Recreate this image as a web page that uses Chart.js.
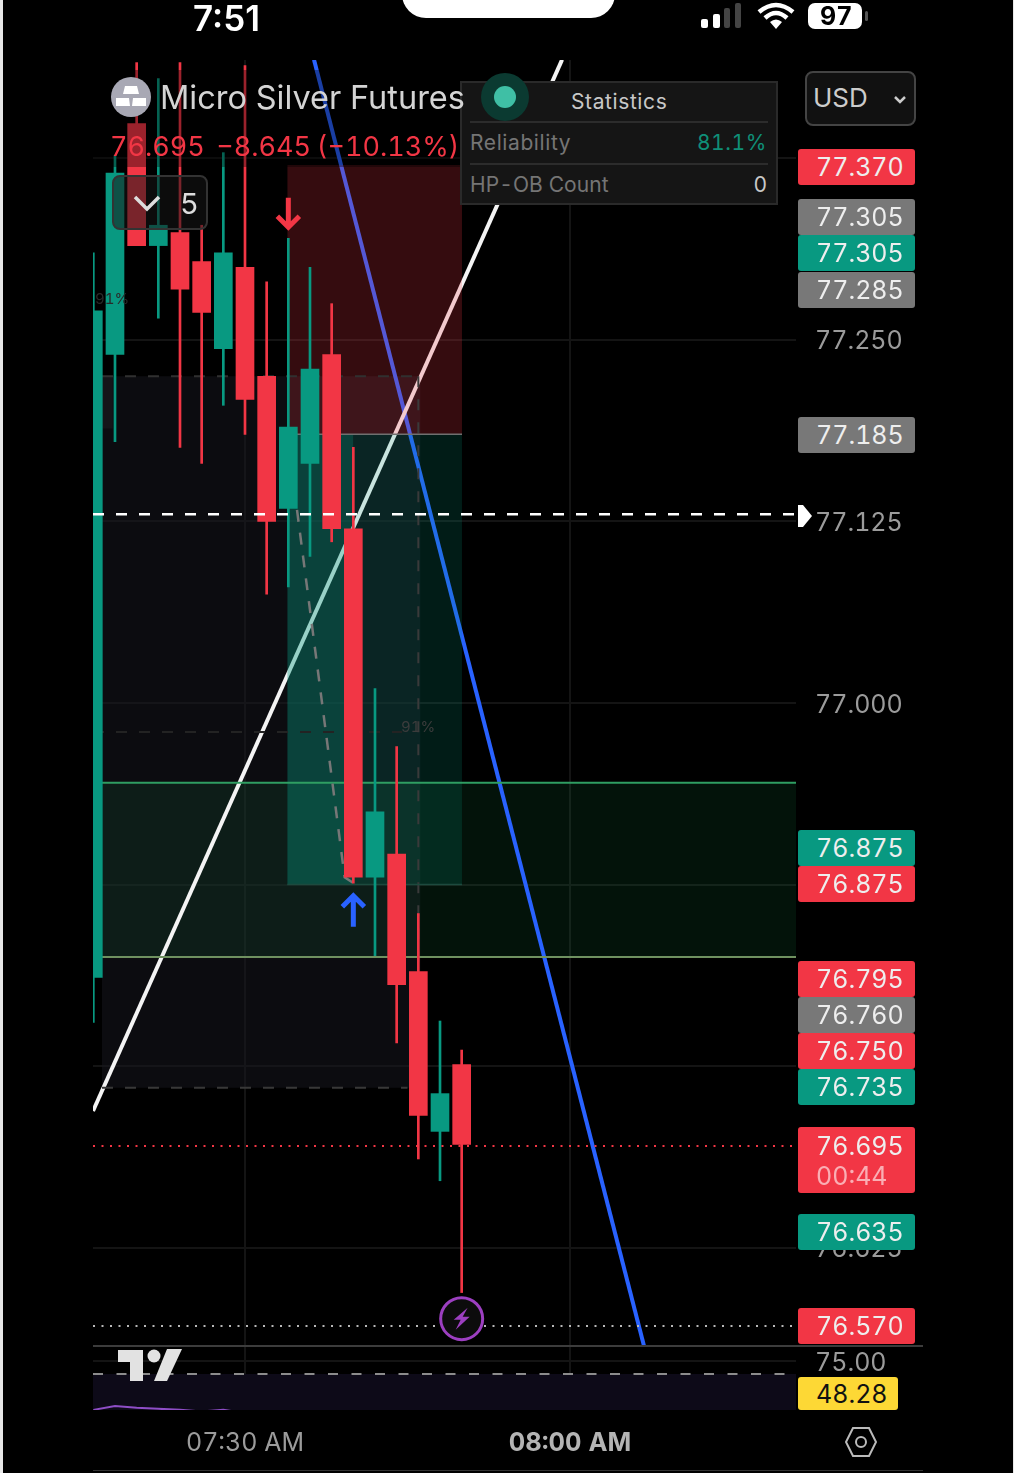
<!DOCTYPE html>
<html>
<head>
<meta charset="utf-8">
<title>Micro Silver Futures</title>
<script src="https://cdn.jsdelivr.net/npm/chart.js@4/dist/chart.umd.min.js"></script>
<style>
html, body { margin: 0; padding: 0; background: #000; }
body { width: 1014px; height: 1473px; position: relative; overflow: hidden; font-family: Inter, sans-serif; color: #ddd; font-variant-numeric: tabular-nums; }
canvas { position: absolute; left: 0; top: 0; }
.abs { position: absolute; white-space: nowrap; }
.edge { position: absolute; top: 0; bottom: 0; background: #e8e8e8; }
.tag { position: absolute; left: 798px; width: 117px; height: 36px; line-height: 37px; border-radius: 3px; font-size: 25px; color: #eee; text-indent: 18px; }
.tag.red { background: #f23645; }
.tag.grey { background: #787878; }
.tag.teal { background: #089981; }
.tag span { display: block; line-height: 22px; color: rgba(255,255,255,.6); }
#legendName { left: 160px; top: 78px; font-size: 32.5px; color: #d4d4d4; z-index: 2; }
#legendPrice { left: 110px; top: 130px; font-size: 27px; color: #f23645; word-spacing: -1.5px; }
#intervalBtn { left: 112px; top: 175px; width: 92px; height: 51px; border: 2px solid #333; border-radius: 8px; background: rgba(22,22,22,.55); }
#intervalBtn b { position: absolute; left: 66px; top: 9px; font-size: 29px; font-weight: 400; color: #ddd; }
#stats { left: 460px; top: 81px; width: 314px; height: 120px; border: 2px solid #2a2a2a; background: #151515; font-size: 21px; }
#stats div { position: absolute; }
#stats .rule { left: 8px; right: 8px; height: 2px; background: #2c2c2c; }
.usd { left: 805px; top: 71px; width: 107px; height: 51px; border: 2px solid #444; border-radius: 8px; background: #111; font-size: 26px; line-height: 50px; text-indent: 6px; color: #ccc; }
#rsiTag { left: 798px; top: 1377px; width: 100px; height: 33px; line-height: 34px; background: #fdd835; color: #111; border-radius: 3px; font-size: 25px; text-indent: 18px; }
</style>
</head>
<body>
<canvas id="chart" width="1014" height="1473"></canvas>

<div class="edge" style="left:0;width:3px"></div>
<div class="edge" style="left:1013px;width:1px"></div>

<!-- phone status bar -->
<div class="abs" style="left:193px;top:-3px;font-size:35px;font-weight:600;color:#fff;font-variant-numeric:normal">7:51</div>
<div class="abs" style="left:402px;top:-20px;width:213px;height:38px;background:#fff;border-radius:0 0 24px 24px"></div>
<svg class="abs" style="left:695px;top:0" width="180" height="34">
  <rect x="6" y="19" width="7" height="9" rx="2" fill="#fff"/>
  <rect x="18" y="14" width="7" height="14" rx="2" fill="#fff"/>
  <rect x="29" y="8" width="6" height="20" rx="2" fill="#444"/>
  <rect x="40" y="3" width="6" height="25" rx="2" fill="#444"/>
  <path d="M64 12 Q81 -2 98 12 M70 18 Q81 8 92 18" fill="none" stroke="#fff" stroke-width="4.5"/>
  <path d="M75 22 Q81 17 87 22 L81 29 Z" fill="#fff"/>
  <rect x="113" y="3" width="54" height="26" rx="7" fill="#fff"/>
  <rect x="170" y="11" width="3" height="10" rx="1.5" fill="#555"/>
</svg>
<div class="abs" style="left:820px;top:1px;font-size:25px;font-weight:700;color:#000">97</div>

<!-- legend -->
<svg class="abs" style="left:111px;top:77px" width="40" height="40">
  <circle cx="20" cy="20" r="20" fill="#a8a8b4"/>
  <path d="M14 9 H26 L28 17 H12 Z M5 21 H18 L19 29 H5 Z M22 21 H35 L35 29 H21 Z" fill="#fff"/>
</svg>
<div class="abs" id="legendName">Micro Silver Futures</div>
<div class="abs" id="legendPrice">76.695&nbsp; −8.645 (−10.13%)</div>
<div class="abs" id="intervalBtn">
  <svg class="abs" style="left:19px;top:17px" width="28" height="18"><path d="M2 3 L14 15 L26 3" fill="none" stroke="#ddd" stroke-width="3.5"/></svg>
  <b>5</b>
</div>

<!-- statistics panel -->
<div class="abs" id="stats">
  <div style="left:109px;top:6px;color:#c8c8c8;letter-spacing:.6px">Statistics</div>
  <div class="rule" style="top:38px"></div>
  <div style="left:8px;top:47px;color:#757575;letter-spacing:.6px">Reliability</div>
  <div style="right:9px;top:47px;color:#0f8f78;letter-spacing:.6px">81.1%</div>
  <div class="rule" style="top:80px"></div>
  <div style="left:8px;top:89px;color:#757575;letter-spacing:.1px">HP-OB Count</div>
  <div style="right:9px;top:89px;color:#c8c8c8">0</div>
</div>
<svg class="abs" style="left:481px;top:73px" width="48" height="48">
  <circle cx="24" cy="24" r="24" fill="#0b3a31"/>
  <circle cx="24" cy="24" r="11" fill="#3fbfa5"/>
</svg>

<div class="abs usd">USD
  <svg class="abs" style="left:86px;top:22px" width="14" height="10"><path d="M2 2 L7 7 L12 2" fill="none" stroke="#ccc" stroke-width="2.5"/></svg>
</div>

<div id="tags"></div>
<svg class="abs" style="left:797px;top:504px" width="16" height="24"><path d="M1 1 H6 L15 12 L6 23 H1 Z" fill="#fff"/></svg>
<div class="abs" id="rsiTag">48.28</div>

<!-- pane separators, logo, settings icon -->
<div class="abs" style="left:93px;top:1345px;width:830px;height:2px;background:#3c3c3c"></div>
<div class="abs" style="left:93px;top:1470px;width:830px;height:1px;background:#333"></div>
<svg class="abs" style="left:116px;top:1348px" width="70" height="36">
  <path d="M2 2 H27 V33 H14 V14 H2 Z" fill="#e2e2e2"/>
  <circle cx="38" cy="8" r="6.5" fill="#e2e2e2"/>
  <path d="M51 1 H66 L51 33 H38 Z" fill="#e2e2e2"/>
</svg>
<svg class="abs" style="left:844px;top:1426px" width="34" height="32">
  <path d="M9 2 H25 L32 16 L25 30 H9 L2 16 Z" fill="none" stroke="#bbb" stroke-width="2"/>
  <circle cx="17" cy="16" r="5" fill="none" stroke="#bbb" stroke-width="2"/>
</svg>

<script>
// candles, one every 2 minutes, time is minutes from 07:30
var candleTimes = [-14, -12, -10, -8, -6, -4, -2, 0, 2, 4, 6, 8, 10, 12, 14, 16, 18, 20];
var opens  = [76.811, 77.240, 77.399, 77.315, 77.324, 77.304, 77.244, 77.300, 77.225, 77.134, 77.165, 77.240, 77.120, 76.880, 76.896, 76.815, 76.705, 76.751];
var highs  = [77.310, 77.377, 77.441, 77.430, 77.441, 77.329, 77.379, 77.439, 77.290, 77.320, 77.300, 77.275, 77.176, 77.010, 76.970, 76.855, 76.781, 76.761];
var lows   = [76.780, 77.180, 77.315, 77.265, 77.176, 77.165, 77.205, 77.185, 77.075, 77.080, 77.101, 77.111, 76.876, 76.826, 76.766, 76.686, 76.671, 76.594];
var closes = [77.270, 77.365, 77.315, 77.329, 77.285, 77.269, 77.310, 77.209, 77.125, 77.190, 77.230, 77.120, 76.880, 76.925, 76.806, 76.716, 76.731, 76.696];

var rsiValues = [56.2, 57.7, 57.0, 56.6, 56.2, 55.6, 56.2, 55.0, 54.0, 54.5, 55.0, 53.5, 49.5, 50.5, 49.5, 47.5, 48.5, 48.28];

var xTickValues = [0, 30];
var xTickLabels = ['07:30 AM', '08:00 AM'];
var priceTicks = [77.375, 77.25, 77.125, 77, 76.875, 76.75, 76.625];
var rsiTicks = [75];

// right hand price tags
var tagValues = ['77.370', '77.305', '77.305', '77.285', '77.185', '76.875', '76.875', '76.795', '76.760', '76.750', '76.735', '76.695', '76.635', '76.570'];
var tagKinds  = ['red', 'grey', 'teal', 'grey', 'grey', 'teal', 'red', 'red', 'grey', 'red', 'teal', 'red', 'teal', 'red'];
var tagCentres = [167, 217, 253, 290, 435, 848, 884, 979, 1015, 1051, 1087, 1146, 1232, 1326];

// drawings, in minutes and price
var whiteTrendX = [-14.03, 29.27];
var whiteTrendY = [76.719, 77.443];
var blueTrendX = [6.37, 36.84];
var blueTrendY = [77.443, 76.557];
var pathTrendX = [4.8, 9.2, 10];
var pathTrendY = [77.133, 76.880, 76.876];
var lastDashPrice = 77.130;
var lastClosePrice = 76.695;
var lowDotPrice = 76.571;
var rsiDashValue = 70;

var X_MIN = -14.03, X_MAX = 50.86;
var Y_MIN = 76.5572, Y_MAX = 77.4428;
var RSI_MIN = 56.15, RSI_MAX = 80.77;

var RED = '#f23645', GREEN = '#089981';

function candleColors() {
    var out = [];
    for (var i = 0; i < candleTimes.length; i++) out.push(closes[i] >= opens[i] ? GREEN : RED);
    return out;
}

function floatingBars(a, b) {
    var out = [];
    for (var i = 0; i < candleTimes.length; i++) out.push({ x: candleTimes[i], y: [a[i], b[i]] });
    return out;
}

function line(xs, ys, color, width, dash, order, axis) {
    var pts = [];
    for (var i = 0; i < xs.length; i++) pts.push({ x: xs[i], y: ys[i] });
    return {
        type: 'line', data: pts, borderColor: color, borderWidth: width, borderDash: dash || [],
        pointRadius: 0, tension: 0, fill: false, order: order, yAxisID: axis || 'y'
    };
}

function hline(price, t0, t1, color, width, dash, order) {
    return line([t0, t1], [price, price], color, width, dash, order);
}

function zone(t0, t1, top, bottom, color, order, axis) {
    return {
        type: 'line', data: [{ x: t0, y: top }, { x: t1, y: top }],
        borderWidth: 0, borderColor: 'transparent', backgroundColor: color,
        fill: { value: bottom }, pointRadius: 0, tension: 0, order: order, yAxisID: axis || 'y'
    };
}

function buildDatasets() {
    var colors = candleColors();
    var rsi = line(candleTimes, rsiValues, '#8e4ec6', 2, null, 3, 'y2');
    return [
        // dashed lines above the candles
        hline(lastDashPrice, X_MIN, X_MAX, '#ffffff', 2.5, [11, 12], 1),
        hline(lastClosePrice, X_MIN, X_MAX, '#f23645', 2, [2, 6.5], 1),
        hline(lowDotPrice, X_MIN, X_MAX, '#b8b8b8', 2, [2, 6.5], 1),
        // candles
        { type: 'bar', data: floatingBars(opens, closes), backgroundColor: colors, barThickness: 18, grouped: false, order: 4, borderWidth: 0 },
        { type: 'bar', data: floatingBars(lows, highs), backgroundColor: colors, barThickness: 2, grouped: false, order: 5, borderWidth: 0 },
        // box outlines
        line(pathTrendX, pathTrendY, '#777777', 2.5, [12, 11], 6),
        hline(77.185, 4.8, 20.03, '#707070', 1.5, null, 6),
        hline(76.875, 3.9, 20.03, '#1d4a3e', 1.5, null, 6),
        hline(76.945, -13.2, X_MAX, '#2f9e62', 2, null, 6),
        hline(76.825, -13.2, X_MAX, '#6f9160', 2, null, 6),
        hline(77.225, -13.2, 16, '#303030', 2, [11, 12], 6),
        hline(76.735, -13.2, 15, '#383838', 2, [11, 12], 6),
        hline(76.98, X_MIN, 14.5, '#232323', 2, [11, 12], 6),
        line([16, 16], [77.225, 76.815], '#3a3a3a', 2, [11, 12], 6),
        // position boxes tint the trend lines below them
        zone(3.9, 20.03, 77.3705, 77.185, 'rgba(242,54,69,0.22)', 7),
        zone(3.9, 20.03, 77.185, 76.875, 'rgba(8,153,129,0.18)', 7),
        zone(3.9, 10, 77.185, 76.875, 'rgba(8,153,129,0.25)', 7),
        // trend lines
        line(whiteTrendX, whiteTrendY, '#f4f4f4', 4, null, 9),
        line(blueTrendX, blueTrendY, '#2962ff', 4, null, 9),
        // background boxes
        zone(-13.2, X_MAX, 76.945, 76.825, 'rgba(30,190,100,0.10)', 10),
        zone(-13.2, 16.2, 77.225, 76.735, 'rgba(22,22,30,0.55)', 10),
        zone(-13.2, -12.2, 77.225, 77.189, 'rgba(60,60,60,0.35)', 10),
        // rsi pane
        rsi,
        line([X_MIN, X_MAX], [rsiDashValue, rsiDashValue], '#8c8c8c', 2, [10, 13.5], 3, 'y2'),
        zone(X_MIN, X_MAX, rsiDashValue, RSI_MIN, '#0d0a18', 8, 'y2')
    ];
}

function drawArrow(ctx, x, yTail, yTip, color) {
    var dir = yTip > yTail ? -1 : 1;
    ctx.strokeStyle = color;
    ctx.lineWidth = 5;
    ctx.beginPath();
    ctx.moveTo(x, yTail);
    ctx.lineTo(x, yTip);
    ctx.moveTo(x - 11, yTip + dir * 12);
    ctx.lineTo(x, yTip + dir);
    ctx.lineTo(x + 11, yTip + dir * 12);
    ctx.stroke();
}

// markers and the dimming behind the legend, above the candles
var marksPlugin = {
    id: 'marks',
    afterDatasetsDraw: function(chart) {
        var ctx = chart.ctx, sx = chart.scales.x, sy = chart.scales.y;
        ctx.save();
        ctx.fillStyle = 'rgba(0,0,0,0.36)';
        ctx.fillRect(93, 70, 367, 97);

        drawArrow(ctx, sx.getPixelForValue(4), sy.getPixelForValue(77.348), sy.getPixelForValue(77.327), RED);
        drawArrow(ctx, sx.getPixelForValue(10), sy.getPixelForValue(76.846), sy.getPixelForValue(76.868), '#2962ff');

        var bx = sx.getPixelForValue(20), by = sy.getPixelForValue(76.576);
        ctx.beginPath();
        ctx.arc(bx, by, 21, 0, Math.PI * 2);
        ctx.fillStyle = '#0c0c0c';
        ctx.fill();
        ctx.lineWidth = 3;
        ctx.strokeStyle = '#9c3fc0';
        ctx.stroke();
        ctx.beginPath();
        ctx.moveTo(bx + 6, by - 11);
        ctx.lineTo(bx - 8, by + 1);
        ctx.lineTo(bx - 1, by + 1);
        ctx.lineTo(bx - 6, by + 11);
        ctx.lineTo(bx + 8, by - 2);
        ctx.lineTo(bx + 1, by - 2);
        ctx.closePath();
        ctx.fillStyle = '#9c3fc0';
        ctx.fill();

        ctx.font = '15px Inter';
        ctx.fillStyle = '#3c3c3c';
        ctx.textBaseline = 'middle';
        ctx.fillText('91%', sx.getPixelForValue(14.4), sy.getPixelForValue(76.983));
        ctx.fillStyle = '#2a2a2a';
        ctx.fillText('91%', 95, sy.getPixelForValue(77.278));
        ctx.restore();
    }
};

function buildTags() {
    var html = '';
    for (var i = 0; i < tagValues.length; i++) {
        if (tagValues[i] === '76.695') {
            // last price tag carries the bar countdown
            html += '<div class="tag red" style="top:' + (tagCentres[i] - 19) + 'px;height:66px;line-height:38px">' + tagValues[i] + '<span>00:44</span></div>';
        } else {
            html += '<div class="tag ' + tagKinds[i] + '" style="top:' + (tagCentres[i] - 18) + 'px">' + tagValues[i] + '</div>';
        }
    }
    document.getElementById('tags').innerHTML = html;
}

function tickList(values) {
    return function(s) {
        s.ticks = values.map(function(v) { return { value: v }; });
    };
}

function yScale(min, max, weight, stackW, values) {
    return {
        type: 'linear', position: 'right', min: min, max: max,
        stack: 'panes', stackWeight: stackW, weight: weight,
        afterFit: function(s) { s.width = 218; },
        afterBuildTicks: tickList(values),
        border: { display: false },
        grid: { color: '#141414', lineWidth: 2, drawTicks: false },
        ticks: {
            autoSkip: false, padding: 19, labelOffset: 2, color: '#9b9b9b',
            font: { family: 'Inter', size: 25 }
        }
    };
}

window.onload = function() {
    buildTags();

    var y = yScale(Y_MIN, Y_MAX, 1, 1286, priceTicks);
    // 77.375 sits behind the 77.370 tag
    y.ticks.callback = function(v) { return v === priceTicks[0] ? '' : v.toFixed(3); };

    var y2 = yScale(RSI_MIN, RSI_MAX, 2, 64, rsiTicks);
    y2.ticks.callback = function(v) { return v.toFixed(2); };

    new Chart(document.getElementById('chart'), {
        type: 'bar',
        data: { datasets: buildDatasets() },
        plugins: [marksPlugin],
        options: {
            responsive: false,
            animation: false,
            events: [],
            layout: { padding: { left: 93, right: 0, top: 60, bottom: 0 } },
            plugins: { legend: { display: false }, tooltip: { enabled: false } },
            scales: {
                x: {
                    type: 'linear', min: X_MIN, max: X_MAX, offset: false,
                    afterFit: function(s) { s.height = 63; },
                    afterBuildTicks: tickList(xTickValues),
                    border: { display: false },
                    grid: { color: '#141414', lineWidth: 2, drawTicks: false, offset: false },
                    ticks: {
                        maxRotation: 0, padding: 18,
                        color: function(c) { return c.tick && c.tick.value === 30 ? '#b4b4b4' : '#9b9b9b'; },
                        font: function(c) {
                            var bold = c.tick && c.tick.value === 30;
                            return { family: 'Inter', size: bold ? 25.5 : 25, weight: bold ? '700' : '400' };
                        },
                        callback: function(v) { return xTickLabels[xTickValues.indexOf(v)]; }
                    }
                },
                y: y,
                y2: y2
            }
        }
    });
};
</script>
</body>
</html>
